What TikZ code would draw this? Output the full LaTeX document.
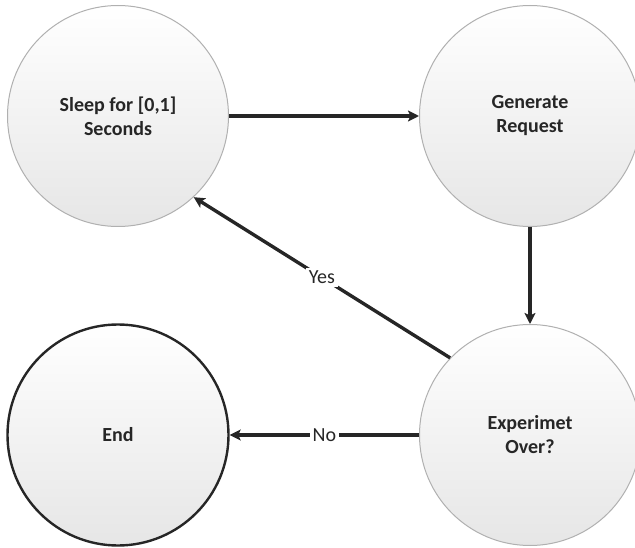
\documentclass[tikz,border=0pt]{standalone}
\usepackage{fontspec}
\setmainfont{Carlito}
\usetikzlibrary{arrows.meta}
\definecolor{rimgray}{HTML}{B0B0B0}
\definecolor{inkgray}{HTML}{262626}
\definecolor{fillbottom}{HTML}{E6E6E6}
\tikzset{
  state/.style={circle, draw=rimgray, line width=1pt, minimum size=221pt,
    inner sep=0pt, top color=white, bottom color=fillbottom,
    font=\bfseries\fontsize{20}{24}\selectfont, text=inkgray, align=center},
  final/.style={state, draw=inkgray, line width=2.4pt},
  flow/.style={draw=inkgray, line width=3.4pt,
    -{Stealth[length=11pt,width=11pt,inset=2.5pt]}},
  flowlabel/.style={fill=white, inner sep=3pt, text=inkgray,
    font=\fontsize{20}{24}\selectfont}
}
\begin{document}
\begin{tikzpicture}[x=1pt,y=-1pt]
\useasboundingbox (0,0) rectangle (635,548);
\node[state] (sleep) at (118,116) {Sleep for [0,1]\\Seconds};
\node[state] (gen) at (530,116) {Generate\\Request};
\node[state] (over) at (530,435) {Experimet\\Over?};
\node[final] (end) at (118,435) {End};
\draw[flow] (sleep) -- (gen);
\draw[flow] (gen) -- (over);
\draw[flow] (over.136) -- node[flowlabel] {Yes} (sleep.313);
\draw[flow] (over) -- node[flowlabel] {No} (end);
\end{tikzpicture}
\end{document}
